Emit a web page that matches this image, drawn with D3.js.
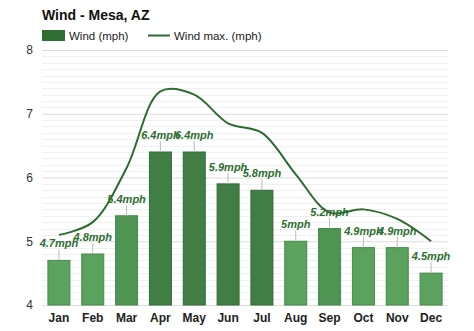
<!DOCTYPE html>
<html>
<head>
<meta charset="utf-8">
<script src="https://cdn.jsdelivr.net/npm/d3@7"></script>
<style>
  html, body { margin: 0; padding: 0; background: #fff; }
  svg { display: block; font-family: "Liberation Sans", Arial, sans-serif; }
</style>
</head>
<body>
<svg id="chart" width="474" height="331"></svg>
<script>
// Monthly wind data for Mesa, AZ
const months = ["Jan", "Feb", "Mar", "Apr", "May", "Jun", "Jul", "Aug", "Sep", "Oct", "Nov", "Dec"];
const windAvg = [4.7, 4.8, 5.4, 6.4, 6.4, 5.9, 5.8, 5.0, 5.2, 4.9, 4.9, 4.5];
const windMax = [5.1, 5.3, 6.15, 7.35, 7.3, 6.85, 6.7, 6.05, 5.45, 5.5, 5.35, 5.0];
const yTicks = [4, 5, 6, 7, 8];

const svg = d3.select("#chart");
const margin = { left: 42, right: 26, top: 50, bottom: 26 };
const W = 474, H = 331;

const x = d3.scaleBand().domain(months)
  .range([margin.left, W - margin.right]).paddingInner(0.35).paddingOuter(0.175);
const y = d3.scaleLinear().domain([4, 8]).range([H - margin.bottom, margin.top]);

// Minor grid lines every 0.1
const minor = d3.range(41).map(i => 4 + i * 0.1).filter(v => Math.abs(v - Math.round(v)) > 1e-6);
svg.append("g").selectAll("line").data(minor).join("line")
  .attr("x1", margin.left).attr("x2", W - margin.right)
  .attr("y1", d => Math.round(y(d)) + 0.5).attr("y2", d => Math.round(y(d)) + 0.5)
  .attr("stroke", "#f0f0f0").attr("stroke-width", 1);

// Major grid lines + y labels via axis
const yAxis = d3.axisLeft(y).tickValues(yTicks).tickSize(-(W - margin.left - margin.right)).tickFormat(d3.format("d"));
const gy = svg.append("g").attr("transform", `translate(${margin.left},0)`).call(yAxis);
gy.select(".domain").remove();
gy.selectAll(".tick line").attr("stroke", "#dcdcdc");
gy.selectAll(".tick text").attr("x", -9).attr("fill", "#333").attr("font-size", 12)
  .attr("font-family", "Liberation Sans, Arial, sans-serif");

// Bars
const color = v => v >= 5.8 ? "#417e46" : (v >= 5.2 ? "#4f9453" : "#5aa25d");
const stroke = v => v >= 5.8 ? "#346a38" : "#468a4a";
svg.append("g").selectAll("rect").data(windAvg).join("rect")
  .attr("x", (d, i) => x(months[i]))
  .attr("width", x.bandwidth())
  .attr("y", d => y(d))
  .attr("height", d => y(4) - y(d))
  .attr("fill", d => color(d))
  .attr("stroke", d => stroke(d)).attr("stroke-width", 1);

// Small ticks above each bar
svg.append("g").selectAll("line").data(windAvg).join("line")
  .attr("x1", (d, i) => x(months[i]) + x.bandwidth() / 2)
  .attr("x2", (d, i) => x(months[i]) + x.bandwidth() / 2)
  .attr("y1", d => y(d)).attr("y2", d => y(d) - 11)
  .attr("stroke", "#bbb").attr("stroke-width", 1);

// Wind max curve
const line = d3.line()
  .x((d, i) => x(months[i]) + x.bandwidth() / 2)
  .y(d => y(d))
  .curve(d3.curveCatmullRom.alpha(0.5));
svg.append("path").datum(windMax)
  .attr("d", line)
  .attr("fill", "none").attr("stroke", "#2e6b32").attr("stroke-width", 2);

// Value labels
svg.append("g").selectAll("text").data(windAvg).join("text")
  .attr("x", (d, i) => x(months[i]) + x.bandwidth() / 2)
  .attr("y", d => y(d) - 13)
  .attr("text-anchor", "middle")
  .attr("font-size", 11).attr("font-weight", "bold").attr("font-style", "italic")
  .attr("fill", "#2e6e32")
  .text(d => d3.format("~g")(d) + "mph");

// X axis labels
const xAxis = d3.axisBottom(x).tickSize(0).tickPadding(8);
const gx = svg.append("g").attr("transform", `translate(0,${y(4)})`).call(xAxis);
gx.select(".domain").remove();
gx.selectAll(".tick text").attr("font-size", 12).attr("font-weight", "bold").attr("fill", "#222")
  .attr("font-family", "Liberation Sans, Arial, sans-serif");

// Title
svg.append("text").attr("x", 42).attr("y", 20)
  .attr("font-size", 14).attr("font-weight", "bold").attr("fill", "#111")
  .text("Wind - Mesa, AZ");

// Legend
const lg = svg.append("g");
lg.append("rect").attr("x", 42).attr("y", 30).attr("width", 23).attr("height", 11).attr("fill", "#2e6e32");
lg.append("text").attr("x", 69).attr("y", 40).attr("font-size", 11.5).attr("fill", "#222").text("Wind (mph)");
lg.append("line").attr("x1", 148).attr("x2", 170).attr("y1", 35.5).attr("y2", 35.5)
  .attr("stroke", "#2e6b32").attr("stroke-width", 2);
lg.append("text").attr("x", 174).attr("y", 40).attr("font-size", 11.5).attr("fill", "#222").text("Wind max. (mph)");
</script>
</body>
</html>
